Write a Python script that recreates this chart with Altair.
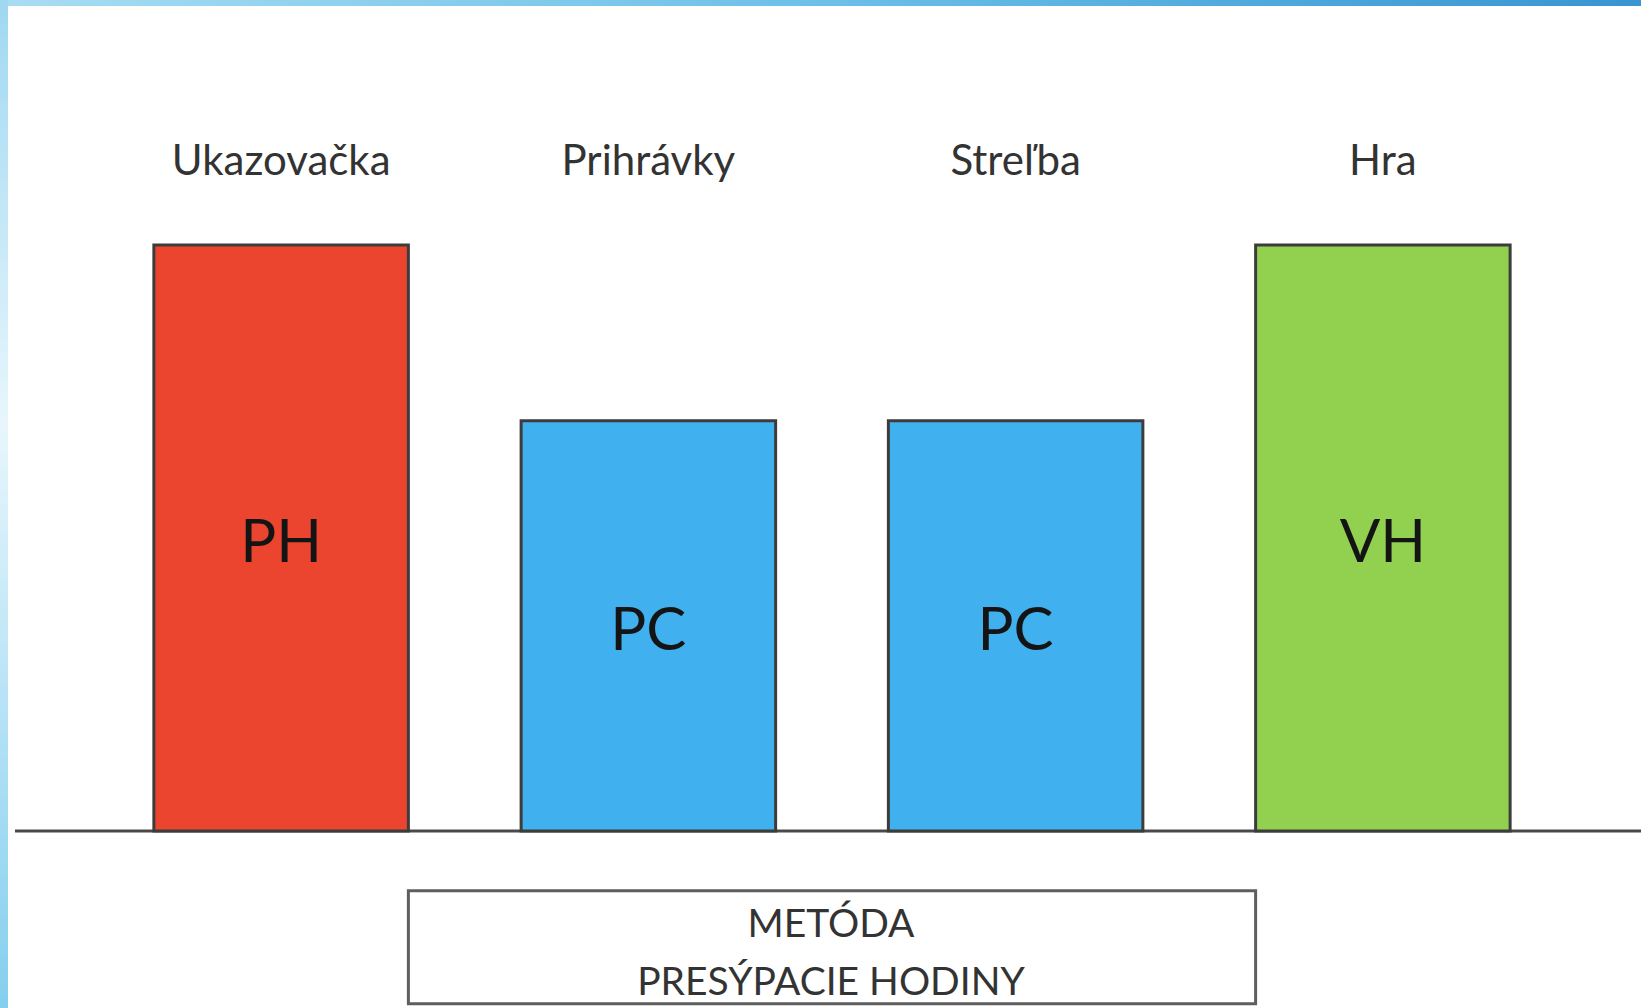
import altair as alt
import pandas as pd

# ---- data ----
categories = ["Ukazovačka", "Prihrávky", "Streľba", "Hra"]
values = [10, 7, 7, 10]
codes = ["PH", "PC", "PC", "VH"]
fills = ["#ec452f", "#41b0ef", "#41b0ef", "#92d050"]
method_lines = ["METÓDA", "PRESÝPACIE HODINY"]
method_line_pos = [-1.6, -2.59]

W, H = 1641, 1008
FONT = "Lato"

df = pd.DataFrame({"cat": categories, "val": values, "code": codes, "fill": fills})
df_method = pd.DataFrame({"line": method_lines, "pos": method_line_pos})

xscale = alt.Scale(domain=categories, range=[0, 1664], paddingInner=0.307, paddingOuter=0.419)
yscale = alt.Scale(domain=[0, 10], range=[831, 245], nice=False, zero=False)

X = alt.X("cat:N", scale=xscale, axis=None, sort=categories)

one = alt.Data(values=[{"a": 1}])

top_strip = alt.Chart(one).mark_rect(
    color=alt.LinearGradient(
        gradient="linear",
        stops=[alt.GradientStop(color="#a8ddf3", offset=0),
               alt.GradientStop(color="#6cc0e8", offset=0.5),
               alt.GradientStop(color="#3895d2", offset=1)],
        x1=0, x2=1, y1=0, y2=0)
).encode(x=alt.value(0), x2=alt.value(W), y=alt.value(0), y2=alt.value(6))

left_strip = alt.Chart(one).mark_rect(
    color=alt.LinearGradient(
        gradient="linear",
        stops=[alt.GradientStop(color="#9fd8f1", offset=0),
               alt.GradientStop(color="#e8f6fc", offset=0.42),
               alt.GradientStop(color="#b3e1f5", offset=0.72),
               alt.GradientStop(color="#84cfee", offset=1)],
        x1=0, x2=0, y1=0, y2=1)
).encode(x=alt.value(0), x2=alt.value(8), y=alt.value(0), y2=alt.value(H))

baseline = alt.Chart(one).mark_rule(color="#4a4a4a", strokeWidth=3).encode(
    x=alt.value(15), x2=alt.value(W), y=alt.Y(datum=0, scale=yscale, axis=None)
)

bars = alt.Chart(df).mark_bar(stroke="#3c3c3c", strokeWidth=3).encode(
    x=X,
    y=alt.Y("val:Q", scale=yscale, axis=None),
    fill=alt.Fill("fill:N", scale=None),
)

bar_text = alt.Chart(df).transform_calculate(mid="datum.val / 2").mark_text(
    font=FONT, fontSize=60, color="#141414", baseline="middle", align="center", dy=6
).encode(x=X, y=alt.Y("mid:Q", scale=yscale, axis=None), text="code:N")

cat_labels = alt.Chart(df).mark_text(
    font=FONT, fontSize=42, color="#333333", baseline="middle", align="center"
).encode(x=X, y=alt.Y(datum=11.42, scale=yscale, axis=None), text="cat:N")

box = alt.Chart(one).mark_rect(fill="white", stroke="#5e5e5e", strokeWidth=3).encode(
    x=alt.X(datum="Ukazovačka", type="nominal", scale=xscale, axis=None, bandPosition=1),
    x2=alt.X2(datum="Hra", bandPosition=0),
    y=alt.Y(datum=-1.02, scale=yscale, axis=None),
    y2=alt.Y2(datum=-2.95),
)

box_text = alt.Chart(df_method).mark_text(
    font=FONT, fontSize=39, color="#333333", baseline="middle", align="center"
).encode(x=alt.value(831), y=alt.Y("pos:Q", scale=yscale, axis=None), text="line:N")

chart = alt.layer(
    top_strip, left_strip, baseline, bars, bar_text, cat_labels, box, box_text
).properties(
    width=W, height=H, autosize=alt.AutoSizeParams(type="none"), padding=0,
    background="white",
).configure_view(stroke=None)

chart.save("out.html", embed_options={"renderer": "svg", "actions": False})
